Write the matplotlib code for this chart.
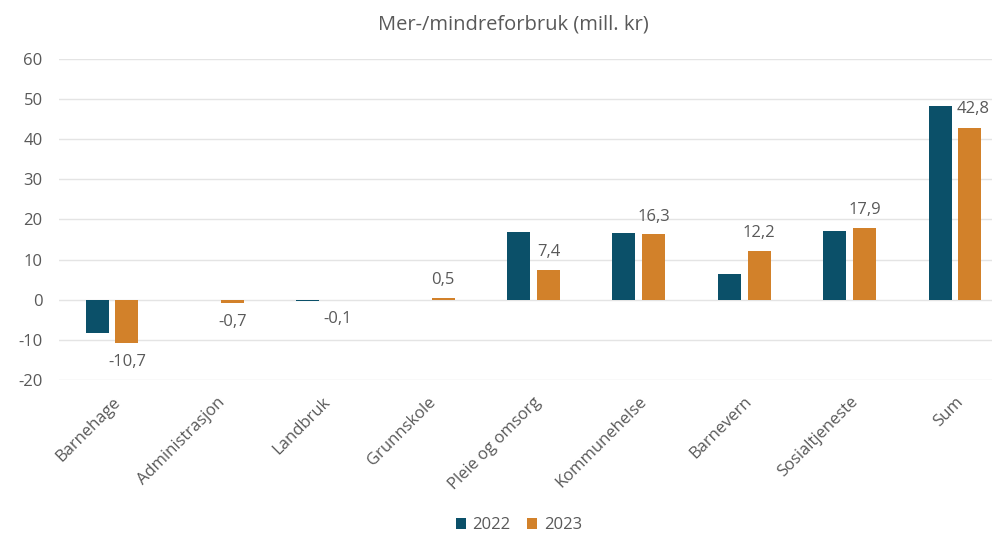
import matplotlib.pyplot as plt
import numpy as np

plt.rcParams['font.family'] = ['Open Sans', 'DejaVu Sans']
plt.rcParams['axes.unicode_minus'] = False

kategorier = ['Barnehage', 'Administrasjon', 'Landbruk', 'Grunnskole', 'Pleie og omsorg',
              'Kommunehelse', 'Barnevern', 'Sosialtjeneste', 'Sum']
verdier_2022 = [-8.2, 0.0, -0.3, 0.0, 17.0, 16.6, 6.4, 17.2, 48.2]
verdier_2023 = [-10.7, -0.7, -0.1, 0.5, 7.4, 16.3, 12.2, 17.9, 42.8]
etiketter_2023 = ['-10,7', '-0,7', '-0,1', '0,5', '7,4', '16,3', '12,2', '17,9', '42,8']

farge_2022 = '#0b5069'
farge_2023 = '#d2812a'
tekstfarge = '#595959'

fig = plt.figure(figsize=(9.92, 5.36), dpi=100)
ax = fig.add_axes([0.0598, 0.291, 0.956, 0.599])

x = np.arange(len(kategorier))
w = 0.218
d = 0.142
ax.bar(x - d, verdier_2022, w, color=farge_2022, label='2022', zorder=3)
ax.bar(x + d, verdier_2023, w, color=farge_2023, label='2023', zorder=3)

for i, (v22, v23, txt) in enumerate(zip(verdier_2022, verdier_2023, etiketter_2023)):
    if i == len(kategorier) - 1:
        ax.annotate(txt, (x[i] + d, max(v22, v23)), xytext=(2, -2), textcoords='offset points',
                    ha='center', va='center', fontsize=12, color=tekstfarge)
    elif v23 >= 0:
        ax.annotate(txt, (x[i] + d, v23), xytext=(0, 7), textcoords='offset points',
                    ha='center', va='bottom', fontsize=12, color=tekstfarge)
    else:
        ax.annotate(txt, (x[i] + d, v23), xytext=(0, -8), textcoords='offset points',
                    ha='center', va='top', fontsize=12, color=tekstfarge)

ax.set_xlim(-0.5, len(kategorier) - 0.5)
ax.set_ylim(-20, 60)
ax.set_yticks(range(-20, 61, 10))
ax.grid(axis='y', color='#e4e4e4', linewidth=1, zorder=0)
for s in ax.spines.values():
    s.set_visible(False)
ax.tick_params(axis='both', length=0, labelsize=12, colors=tekstfarge)
ax.tick_params(axis='y', pad=12)
ax.set_xticks(x)
ax.set_xticklabels(kategorier, rotation=45, ha='right', rotation_mode='anchor')
ax.tick_params(axis='x', pad=10)

fig.text(0.518, 0.955, 'Mer-/mindreforbruk (mill. kr)', ha='center', va='center',
         fontsize=14.5, color=tekstfarge)

leg = fig.legend(loc='center', bbox_to_anchor=(0.523, 0.02), ncol=2, frameon=False,
                 fontsize=12, handlelength=0.6, handleheight=0.6, columnspacing=1.0,
                 handletextpad=0.4)
for t in leg.get_texts():
    t.set_color(tekstfarge)

fig.savefig('out.png', dpi=100)
